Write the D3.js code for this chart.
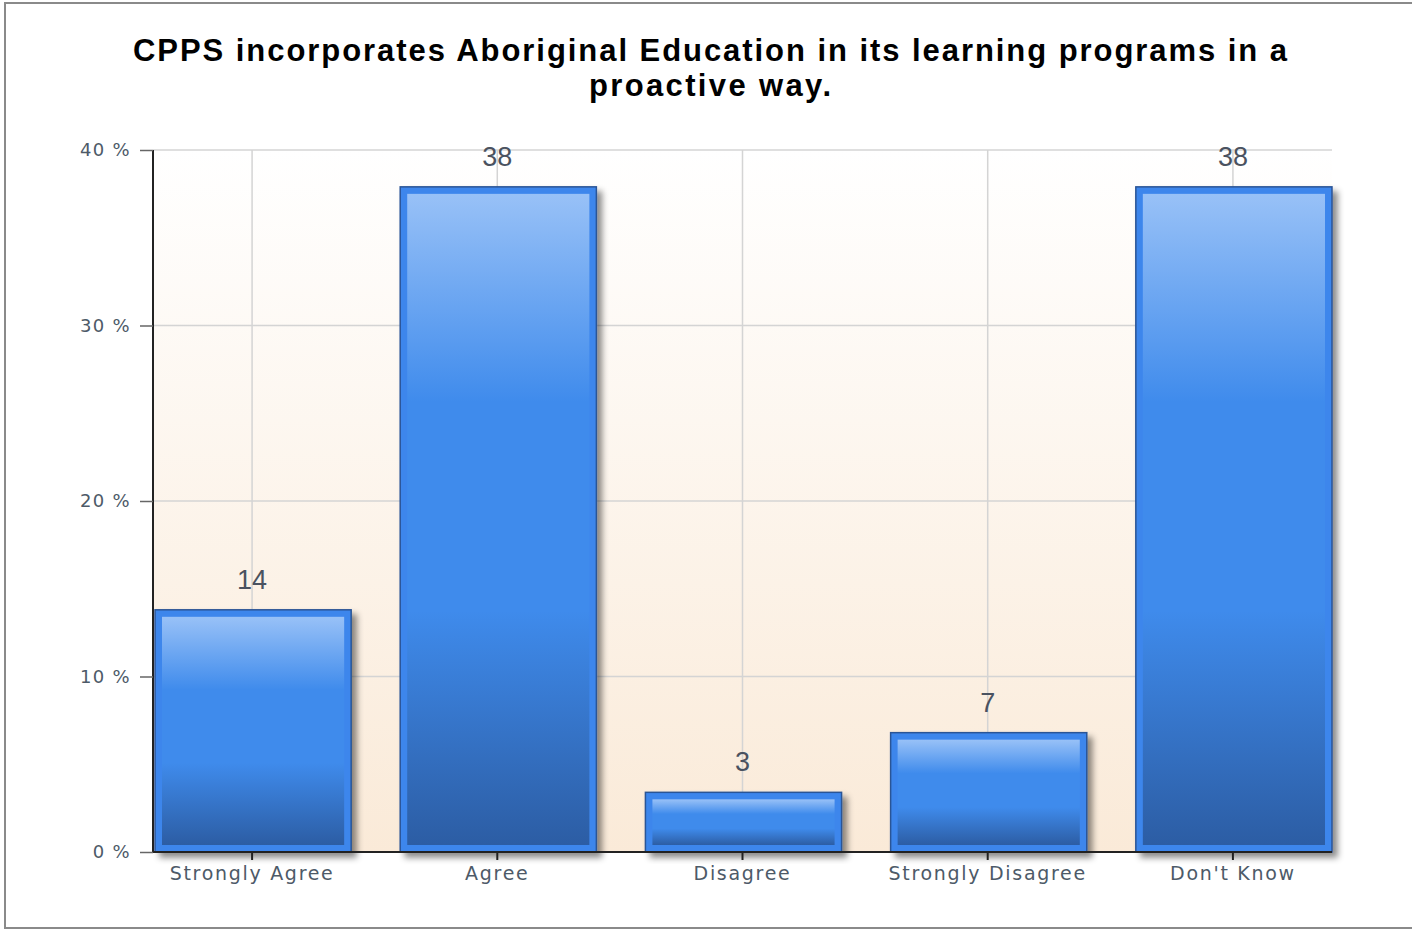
<!DOCTYPE html>
<html>
<head>
<meta charset="utf-8">
<script src="https://cdn.jsdelivr.net/npm/d3@7"></script>
<style>
  body { margin: 0; background: #fff; }
  svg text { font-family: "Liberation Sans", Arial, sans-serif; }
</style>
</head>
<body>
<svg id="chart" width="1412" height="930"></svg>
<script>
var categories = ["Strongly Agree", "Agree", "Disagree", "Strongly Disagree", "Don't Know"];
var values = [13.8, 37.9, 3.4, 6.8, 37.9];
var labels = ["14", "38", "3", "7", "38"];
var yTicks = [0, 10, 20, 30, 40];
var titleLines = ["CPPS incorporates Aboriginal Education in its learning programs in a", "proactive way."];

var svg = d3.select("#chart");
var plotLeft = 153, plotRight = 1332, plotTop = 150, plotBottom = 852;

var defs = svg.append("defs");
var bg = defs.append("linearGradient").attr("id", "bg").attr("x1", 0).attr("y1", 0).attr("x2", 0).attr("y2", 1);
bg.append("stop").attr("offset", "0%").attr("stop-color", "#ffffff");
bg.append("stop").attr("offset", "100%").attr("stop-color", "#faead8");

var bar = defs.append("linearGradient").attr("id", "barfill").attr("x1", 0).attr("y1", 0).attr("x2", 0).attr("y2", 1);
[["0%", "#98c1f7"], ["32%", "#3f8bec"], ["64%", "#3f8bec"], ["100%", "#2c5da4"]].forEach(function (s) {
    bar.append("stop").attr("offset", s[0]).attr("stop-color", s[1]);
});

var sh = defs.append("filter").attr("id", "shadow").attr("x", "-10%").attr("y", "-10%").attr("width", "130%").attr("height", "130%");
sh.append("feDropShadow").attr("dx", 5).attr("dy", 5).attr("stdDeviation", 3)
    .attr("flood-color", "#000").attr("flood-opacity", 0.45);

// outer frame
svg.append("rect").attr("x", 5).attr("y", 3).attr("width", 1420).attr("height", 925)
    .attr("fill", "none").attr("stroke", "#8a8a8a").attr("stroke-width", 2);

// title
svg.selectAll(".title").data(titleLines).enter().append("text")
    .attr("class", "title")
    .attr("x", 710).attr("y", function (d, i) { return 61 + i * 35; })
    .attr("text-anchor", "middle")
    .attr("font-size", 31).attr("font-weight", "bold").attr("fill", "#000")
    .attr("textLength", function (d, i) { return i === 0 ? 1154 : 242; })
    .attr("lengthAdjust", "spacing")
    .text(function (d) { return d; });

var x = d3.scaleBand().domain(categories).range([155, plotRight]).paddingInner(0.2).paddingOuter(0);
var y = d3.scaleLinear().domain([0, 40]).range([plotBottom, plotTop]);

// plot background
svg.append("rect").attr("x", plotLeft).attr("y", plotTop)
    .attr("width", plotRight - plotLeft).attr("height", plotBottom - plotTop)
    .attr("fill", "url(#bg)");

// gridlines
svg.selectAll(".hgrid").data(yTicks.slice(1)).enter().append("line")
    .attr("x1", plotLeft).attr("x2", plotRight)
    .attr("y1", function (d) { return y(d); }).attr("y2", function (d) { return y(d); })
    .attr("stroke", "#d4d4d4").attr("stroke-width", 1.5);
svg.selectAll(".vgrid").data(categories).enter().append("line")
    .attr("x1", function (d) { return x(d) + x.bandwidth() / 2 - 1; })
    .attr("x2", function (d) { return x(d) + x.bandwidth() / 2 - 1; })
    .attr("y1", plotTop).attr("y2", plotBottom)
    .attr("stroke", "#d4d4d4").attr("stroke-width", 1.5);

// y axis
var yAxis = svg.append("g").attr("transform", "translate(" + plotLeft + ",0)")
    .call(d3.axisLeft(y).tickValues(yTicks).tickSize(13).tickPadding(9).tickFormat(function (d) { return d + " %"; }));
yAxis.select(".domain").attr("d", "M0," + plotTop + "V" + plotBottom).attr("stroke", "#222").attr("stroke-width", 2);
yAxis.selectAll(".tick line").attr("stroke", "#666").attr("stroke-width", 1.5);
yAxis.selectAll(".tick text").attr("font-size", 18).attr("fill", "#4d5a68").attr("letter-spacing", 1.3)
    .style("font-family", "'DejaVu Sans', Verdana, sans-serif");

// bars
var g = svg.selectAll(".bar").data(values).enter().append("g").attr("class", "bar");
g.append("rect")
    .attr("x", function (d, i) { return x(categories[i]); })
    .attr("y", function (d) { return y(d); })
    .attr("width", x.bandwidth())
    .attr("height", function (d) { return plotBottom - y(d); })
    .attr("fill", "#3d86ec").attr("stroke", "#2b5596").attr("stroke-width", 1.5)
    .attr("filter", "url(#shadow)");
g.append("rect")
    .attr("x", function (d, i) { return x(categories[i]) + 7; })
    .attr("y", function (d) { return y(d) + 7; })
    .attr("width", x.bandwidth() - 14)
    .attr("height", function (d) { return Math.max(0, plotBottom - y(d) - 14); })
    .attr("fill", "url(#barfill)");

// x axis
var xAxis = svg.append("g").attr("transform", "translate(-1," + plotBottom + ")")
    .call(d3.axisBottom(x).tickSize(8).tickPadding(7));
xAxis.select(".domain").attr("d", "M" + (plotLeft + 1) + ",0H" + (plotRight + 1)).attr("stroke", "#222").attr("stroke-width", 2);
xAxis.selectAll(".tick line").attr("stroke", "#222").attr("stroke-width", 2);
xAxis.selectAll(".tick text").attr("font-size", 19).attr("fill", "#4d5a68").attr("letter-spacing", 1.7)
    .style("font-family", "'DejaVu Sans', Verdana, sans-serif");

// value labels
svg.selectAll(".vlabel").data(values).enter().append("text")
    .attr("x", function (d, i) { return x(categories[i]) + x.bandwidth() / 2 - 1; })
    .attr("y", function (d) { return y(d) - 21; })
    .attr("text-anchor", "middle")
    .attr("font-size", 27).attr("fill", "#4a5260")
    .text(function (d, i) { return labels[i]; });
</script>
</body>
</html>
